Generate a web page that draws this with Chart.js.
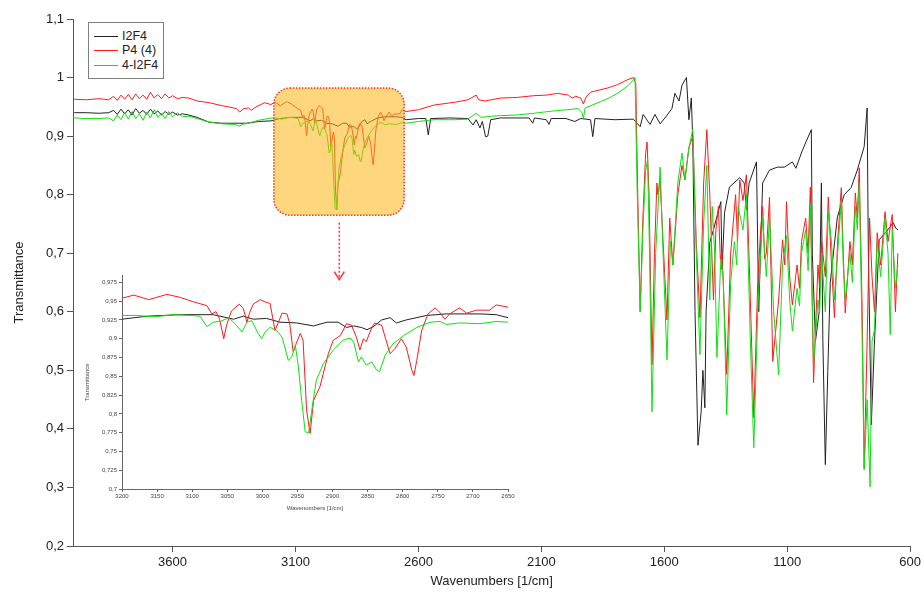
<!DOCTYPE html>
<html>
<head>
<meta charset="utf-8">
<script src="https://cdn.jsdelivr.net/npm/chart.js@4.4.0/dist/chart.umd.min.js"></script>
<style>
  body { margin:0; background:#fff; }
  #wrap { position:relative; width:924px; height:596px; }
  #main { position:absolute; left:0; top:0; }
  #inset { position:absolute; left:80px; top:270px; }
  #legend { position:absolute; left:88px; top:22px; width:74px; height:55px; border:1px solid #808080;
            font-family:'Liberation Sans', Arial, sans-serif; font-size:12.5px; color:#222; background:#fff; }
  .item { position:absolute; left:5px; height:14px; line-height:14px; width:68px; }
  .item .ln { position:absolute; display:block; left:0; top:7px; width:24px; height:1px; }
  .item .tx { position:absolute; left:28px; top:0; white-space:nowrap; }
</style>
</head>
<body>
<div id="wrap">
  <canvas id="main" width="924" height="596"></canvas>
  <canvas id="inset" width="440" height="250"></canvas>
  <div id="legend"></div>
</div>
<script>
// series names and colours
var names  = ['I2F4', 'P4 (4)', '4-I2F4'];
var colors = ['#222222', '#ff1a1a', '#10e010'];

// tick labels
var xTicks = [3600, 3100, 2600, 2100, 1600, 1100, 600];
var yTicks = [0.2, 0.3, 0.4, 0.5, 0.6, 0.7, 0.8, 0.9, 1.0, 1.1];
var insetXTicks = [3200, 3150, 3100, 3050, 3000, 2950, 2900, 2850, 2800, 2750, 2700, 2650];
var insetYTicks = [0.7, 0.725, 0.75, 0.775, 0.8, 0.825, 0.85, 0.875, 0.9, 0.925, 0.95, 0.975];

// [wavenumber, transmittance]
var i2f4 = [
  [4000,0.940],[3950,0.940],[3900,0.939],[3860,0.940],[3840,0.944],[3825,0.937],[3810,0.946],[3795,0.938],
  [3780,0.945],[3765,0.936],[3750,0.947],[3735,0.939],[3720,0.944],[3705,0.937],[3690,0.946],[3675,0.938],
  [3660,0.943],[3645,0.936],[3630,0.942],[3615,0.937],[3600,0.941],[3580,0.936],[3560,0.938],[3534,0.936],
  [3500,0.932],[3453,0.924],[3400,0.922],[3347,0.922],[3300,0.922],[3250,0.925],
  [3200,0.926],[3164,0.930],[3117,0.932],[3070,0.932],[3041,0.926],[3027,0.930],[3013,0.926],[2994,0.927],
  [2975,0.922],[2951,0.921],[2927,0.917],[2908,0.922],[2892,0.922],[2880,0.915],[2870,0.917],[2859,0.915],
  [2851,0.912],[2842,0.916],[2830,0.925],[2818,0.928],[2809,0.921],[2795,0.925],[2766,0.931],[2738,0.933],
  [2690,0.933],[2667,0.932],[2650,0.928],
  [2600,0.930],[2570,0.930],[2560,0.902],[2550,0.930],[2472,0.931],[2399,0.930],[2378,0.919],[2365,0.928],
  [2350,0.914],[2340,0.925],[2327,0.899],[2318,0.900],[2306,0.928],[2266,0.931],[2150,0.931],[2135,0.922],
  [2128,0.931],[2080,0.928],[2069,0.920],[2060,0.930],[2000,0.930],[1964,0.925],[1940,0.930],[1900,0.928],
  [1891,0.899],[1882,0.930],[1800,0.928],[1726,0.929],
  [1698,0.916],[1686,0.937],[1658,0.920],[1638,0.937],[1617,0.921],[1590,0.935],[1569,0.947],[1557,0.973],
  [1540,0.960],[1528,0.987],[1510,1.000],[1500,0.928],[1490,0.965],[1484,0.890],[1475,0.600],[1463,0.372],
  [1450,0.430],[1443,0.500],[1435,0.436],[1430,0.600],[1415,0.718],[1400,0.740],[1370,0.788],[1365,0.672],
  [1355,0.769],[1335,0.813],[1293,0.829],[1275,0.820],[1266,0.774],[1255,0.820],[1225,0.856],[1216,0.600],
  [1200,0.820],[1172,0.842],[1140,0.847],[1111,0.847],[1079,0.856],[1065,0.845],[1038,0.876],[1002,0.911],
  [998,0.700],[985,0.550],[970,0.600],[961,0.820],[955,0.550],[945,0.339],[935,0.498],[925,0.650],
  [896,0.762],[868,0.800],[840,0.812],[815,0.842],[787,0.882],[775,0.948],[770,0.700],[758,0.407],
  [746,0.539],[740,0.595],[726,0.723],[700,0.735],[669,0.752],[657,0.742],[650,0.740]
];

var p4 = [
  [4000,0.963],[3950,0.962],[3900,0.964],[3860,0.962],[3840,0.968],[3825,0.961],[3810,0.970],[3795,0.963],
  [3780,0.971],[3765,0.962],[3750,0.972],[3735,0.964],[3720,0.970],[3705,0.963],[3690,0.975],[3675,0.965],
  [3660,0.971],[3645,0.964],[3630,0.972],[3615,0.965],[3600,0.969],[3580,0.964],[3560,0.966],[3534,0.965],
  [3500,0.960],[3450,0.957],[3400,0.952],[3372,0.950],[3340,0.947],[3327,0.941],[3310,0.947],[3291,0.948],
  [3280,0.944],[3260,0.950],[3226,0.957],
  [3200,0.954],[3183,0.958],[3162,0.952],[3136,0.959],[3117,0.955],[3098,0.949],[3079,0.944],[3072,0.933],
  [3066,0.936],[3061,0.926],[3055,0.900],[3051,0.918],[3044,0.937],[3033,0.946],[3027,0.940],[3022,0.922],
  [3018,0.935],[3013,0.946],[3003,0.952],[2996,0.949],[2989,0.947],[2982,0.911],[2977,0.922],[2972,0.934],
  [2965,0.933],[2961,0.920],[2956,0.882],[2952,0.893],[2946,0.907],[2942,0.898],[2937,0.805],[2932,0.774],
  [2927,0.818],[2918,0.836],[2906,0.880],[2899,0.898],[2889,0.904],[2880,0.920],[2873,0.918],[2866,0.902],
  [2861,0.885],[2856,0.900],[2852,0.896],[2844,0.915],[2840,0.921],[2830,0.918],[2825,0.902],[2818,0.880],
  [2811,0.887],[2802,0.900],[2795,0.889],[2787,0.858],[2784,0.851],[2780,0.871],[2773,0.911],[2764,0.933],
  [2754,0.941],[2747,0.935],[2740,0.926],[2733,0.933],[2719,0.941],[2709,0.934],[2695,0.938],[2676,0.938],
  [2667,0.945],[2650,0.942],
  [2600,0.945],[2537,0.953],[2450,0.958],[2399,0.962],[2365,0.970],[2355,0.962],[2330,0.960],[2266,0.965],
  [2200,0.966],[2132,0.969],[2080,0.970],[2035,0.973],[1990,0.970],[1974,0.965],[1960,0.968],[1940,0.965],
  [1929,0.955],[1918,0.967],[1900,0.975],[1832,0.982],[1790,0.988],[1751,0.996],[1726,1.000],
  [1716,0.990],[1708,0.800],[1698,0.600],[1688,0.750],[1676,0.870],[1670,0.890],[1662,0.800],[1650,0.510],
  [1640,0.700],[1630,0.820],[1626,0.800],[1617,0.825],[1605,0.720],[1589,0.586],[1578,0.760],[1565,0.680],
  [1545,0.800],[1528,0.850],[1516,0.825],[1500,0.880],[1484,0.900],[1470,0.720],[1455,0.590],[1440,0.820],
  [1427,0.911],[1415,0.800],[1400,0.620],[1390,0.740],[1380,0.780],[1372,0.690],[1365,0.700],[1346,0.493],
  [1330,0.700],[1318,0.760],[1310,0.800],[1302,0.720],[1293,0.825],[1280,0.790],[1266,0.834],[1252,0.650],
  [1236,0.419],[1220,0.650],[1208,0.740],[1200,0.780],[1192,0.690],[1185,0.700],[1172,0.796],[1159,0.515],
  [1135,0.620],[1119,0.723],[1110,0.680],[1103,0.788],[1090,0.660],[1079,0.612],[1060,0.680],[1050,0.640],
  [1042,0.720],[1025,0.760],[1015,0.700],[1006,0.813],[993,0.479],[975,0.680],[968,0.640],[960,0.720],
  [945,0.660],[933,0.796],[920,0.680],[908,0.590],[895,0.720],[880,0.812],[872,0.700],[864,0.598],
  [845,0.720],[835,0.680],[823,0.803],[815,0.760],[807,0.846],[795,0.600],[787,0.334],[775,0.550],
  [765,0.760],[755,0.660],[745,0.600],[734,0.735],[720,0.680],[702,0.771],[690,0.720],[673,0.766],
  [660,0.600],[650,0.700]
];

var i2f4b = [
  [4000,0.931],[3950,0.930],[3900,0.930],[3860,0.931],[3840,0.926],[3825,0.936],[3810,0.928],[3795,0.940],
  [3780,0.929],[3765,0.942],[3750,0.930],[3735,0.938],[3720,0.927],[3705,0.941],[3690,0.931],[3675,0.945],
  [3660,0.932],[3645,0.939],[3630,0.930],[3615,0.942],[3600,0.933],[3580,0.940],[3560,0.933],[3534,0.934],
  [3500,0.930],[3453,0.924],[3400,0.921],[3347,0.920],[3330,0.917],[3310,0.921],[3290,0.922],[3250,0.927],
  [3200,0.931],[3179,0.931],[3155,0.929],[3127,0.932],[3103,0.931],[3089,0.930],[3079,0.916],[3070,0.922],
  [3060,0.923],[3048,0.928],[3039,0.920],[3029,0.909],[3022,0.922],[3015,0.924],[3006,0.907],[3001,0.900],
  [2996,0.909],[2989,0.915],[2980,0.911],[2972,0.902],[2968,0.889],[2963,0.871],[2958,0.876],[2953,0.891],
  [2949,0.865],[2944,0.818],[2939,0.776],[2934,0.775],[2929,0.809],[2923,0.845],[2913,0.867],[2899,0.885],
  [2885,0.898],[2875,0.901],[2870,0.896],[2863,0.869],[2859,0.876],[2852,0.865],[2844,0.869],[2837,0.858],
  [2833,0.856],[2825,0.878],[2814,0.893],[2799,0.904],[2780,0.915],[2761,0.922],[2747,0.923],[2738,0.919],
  [2719,0.921],[2690,0.920],[2667,0.923],[2650,0.922],
  [2600,0.925],[2537,0.928],[2450,0.928],[2399,0.929],[2365,0.939],[2345,0.932],[2300,0.934],[2266,0.935],
  [2200,0.936],[2132,0.939],[2050,0.943],[1996,0.945],[1950,0.947],[1935,0.940],[1929,0.930],[1922,0.948],
  [1859,0.959],[1820,0.966],[1791,0.973],[1750,0.985],[1726,0.996],[1719,1.000],
  [1710,0.800],[1698,0.600],[1686,0.750],[1676,0.840],[1668,0.860],[1660,0.700],[1650,0.429],[1635,0.700],
  [1617,0.847],[1605,0.700],[1589,0.518],[1575,0.720],[1565,0.680],[1545,0.820],[1528,0.871],[1516,0.825],
  [1500,0.880],[1484,0.912],[1470,0.700],[1455,0.527],[1440,0.750],[1427,0.850],[1415,0.620],[1405,0.780],
  [1395,0.700],[1386,0.522],[1370,0.690],[1360,0.660],[1346,0.424],[1330,0.650],[1315,0.720],[1305,0.680],
  [1300,0.780],[1280,0.740],[1266,0.800],[1250,0.550],[1236,0.368],[1220,0.600],[1208,0.700],[1200,0.760],
  [1185,0.660],[1172,0.762],[1155,0.600],[1135,0.492],[1119,0.680],[1103,0.730],[1090,0.620],[1079,0.567],
  [1060,0.640],[1050,0.610],[1042,0.700],[1025,0.740],[1015,0.670],[1006,0.785],[993,0.510],[975,0.620],
  [968,0.600],[960,0.700],[945,0.600],[933,0.770],[920,0.720],[908,0.620],[895,0.700],[880,0.790],
  [872,0.680],[864,0.620],[845,0.700],[835,0.650],[823,0.780],[815,0.740],[807,0.820],[795,0.550],
  [787,0.330],[775,0.450],[763,0.301],[755,0.550],[745,0.570],[734,0.720],[720,0.660],[702,0.760],
  [690,0.700],[681,0.561],[673,0.740],[660,0.640],[650,0.680]
];

var series = [i2f4, p4, i2f4b];
var FONT = "'Liberation Sans', Arial, sans-serif";

function fmt(v) { return String(+v.toFixed(3)).replace('.', ','); }
function plain(v) { return String(v); }

function makeDatasets() {
  return series.map(function(s, i) {
    return {
      label: names[i],
      data: s.map(function(p) { return {x: p[0], y: p[1]}; }),
      borderColor: colors[i],
      borderWidth: 1,
      pointRadius: 0,
      tension: 0,
      fill: false,
      order: 3 - i
    };
  });
}

// orange zoom box and arrow drawn over the lines
var zoomBox = {from: 3188, to: 2658, top: 0.982, bottom: 0.765};
var arrow = {wn: 2922, from: 0.752, to: 0.655};

var zoomPlugin = {
  id: 'zoomBox',
  afterDatasetsDraw: function(chart) {
    var ctx = chart.ctx, x = chart.scales.x, y = chart.scales.y;
    var l = x.getPixelForValue(zoomBox.from), r = x.getPixelForValue(zoomBox.to);
    var t = y.getPixelForValue(zoomBox.top), b = y.getPixelForValue(zoomBox.bottom);
    ctx.save();
    ctx.beginPath();
    ctx.roundRect(l, t, r - l, b - t, 16);
    ctx.fillStyle = 'rgba(252,180,20,0.55)';
    ctx.fill();
    ctx.setLineDash([1.5, 1.5]);
    ctx.lineWidth = 1.5;
    ctx.strokeStyle = '#ff3030';
    ctx.stroke();

    var ax = x.getPixelForValue(arrow.wn);
    var a1 = y.getPixelForValue(arrow.from), a2 = y.getPixelForValue(arrow.to);
    ctx.beginPath();
    ctx.moveTo(ax, a1);
    ctx.lineTo(ax, a2 - 2);
    ctx.setLineDash([2, 2]);
    ctx.stroke();
    ctx.setLineDash([]);
    ctx.beginPath();
    ctx.moveTo(ax - 5, a2 - 8);
    ctx.lineTo(ax, a2);
    ctx.lineTo(ax + 5, a2 - 8);
    ctx.stroke();
    ctx.restore();
  }
};

var mainChart = new Chart(document.getElementById('main'), {
  type: 'line',
  data: { datasets: makeDatasets() },
  options: {
    responsive: false,
    animation: false,
    layout: { padding: { top: 19, right: 11, left: 0, bottom: 0 } },
    plugins: { legend: { display: false }, tooltip: { enabled: false } },
    scales: {
      x: {
        type: 'linear', reverse: true, min: 600, max: 4005,
        afterBuildTicks: function(s) { s.ticks = xTicks.map(function(v) { return {value: v}; }); },
        afterFit: function(s) { s.height = 50; },
        ticks: { color: '#222', font: { family: FONT, size: 13 }, maxRotation: 0, autoSkip: false, padding: 3, callback: plain },
        grid: { drawOnChartArea: false, tickLength: 6, color: '#555' },
        border: { color: '#555' },
        title: { display: true, text: 'Wavenumbers [1/cm]', color: '#222',
                 font: { family: FONT, size: 13 }, padding: { top: 4, bottom: 7 } }
      },
      y: {
        min: 0.2, max: 1.1,
        afterBuildTicks: function(s) { s.ticks = yTicks.map(function(v) { return {value: v}; }); },
        afterFit: function(s) { s.width = 73; },
        ticks: { color: '#222', font: { family: FONT, size: 13 }, padding: 3, callback: fmt },
        grid: { drawOnChartArea: false, tickLength: 6, color: '#555' },
        border: { color: '#555' },
        title: { display: true, text: 'Transmittance', color: '#222',
                 font: { family: FONT, size: 13 }, padding: { top: 12, bottom: 0 } }
      }
    }
  },
  plugins: [zoomPlugin]
});

var insetChart = new Chart(document.getElementById('inset'), {
  type: 'line',
  data: { datasets: makeDatasets() },
  options: {
    responsive: false,
    animation: false,
    layout: { padding: { top: 5, right: 12, left: 0, bottom: 0 } },
    plugins: { legend: { display: false }, tooltip: { enabled: false } },
    scales: {
      x: {
        type: 'linear', reverse: true, min: 2650, max: 3200,
        afterBuildTicks: function(s) { s.ticks = insetXTicks.map(function(v) { return {value: v}; }); },
        afterFit: function(s) { s.height = 31; },
        ticks: { color: '#444', font: { family: FONT, size: 6 }, maxRotation: 0, autoSkip: false, padding: 1, callback: plain },
        grid: { drawOnChartArea: false, tickLength: 3, color: '#666' },
        border: { color: '#666' },
        title: { display: true, text: 'Wavenumbers [1/cm]', color: '#444',
                 font: { family: FONT, size: 6 }, padding: { top: 2, bottom: 8 } }
      },
      y: {
        min: 0.7, max: 0.984,
        afterBuildTicks: function(s) { s.ticks = insetYTicks.map(function(v) { return {value: v}; }); },
        afterFit: function(s) { s.width = 42; },
        ticks: { color: '#444', font: { family: FONT, size: 6 }, padding: 2, callback: fmt },
        grid: { drawOnChartArea: false, tickLength: 3, color: '#666' },
        border: { color: '#666' },
        title: { display: true, text: 'Transmittance', color: '#444',
                 font: { family: FONT, size: 6 }, padding: { top: 4, bottom: 0 } }
      }
    }
  }
});

// legend box
var legendRows = [6, 20, 35];
var legend = document.getElementById('legend');
names.forEach(function(n, i) {
  var row = document.createElement('div');
  row.className = 'item';
  row.style.top = legendRows[i] + 'px';
  row.innerHTML = '<span class="ln" style="background-color:' + colors[i] + '"></span><span class="tx">' + n + '</span>';
  legend.appendChild(row);
});
</script>
</body>
</html>
